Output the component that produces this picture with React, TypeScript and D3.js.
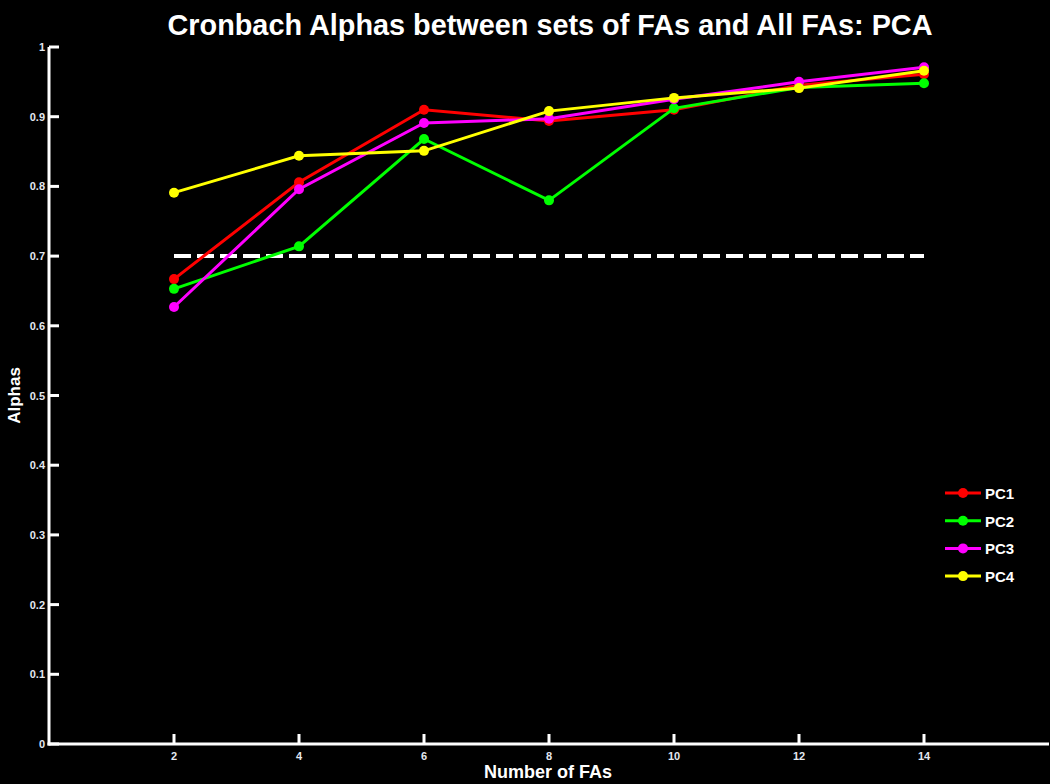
import React from 'react';
import * as d3 from 'd3';

const xValues = [2, 4, 6, 8, 10, 12, 14];
const seriesNames = ['PC1', 'PC2', 'PC3', 'PC4'];
const seriesColors = ['#ff0000', '#00ff00', '#ff00ff', '#ffff00'];
const pc1 = [0.667, 0.806, 0.910, 0.894, 0.910, 0.945, 0.961];
const pc2 = [0.653, 0.714, 0.868, 0.780, 0.912, 0.942, 0.948];
const pc3 = [0.627, 0.796, 0.891, 0.897, 0.925, 0.950, 0.971];
const pc4 = [0.791, 0.844, 0.851, 0.908, 0.927, 0.941, 0.966];
const seriesValues = [pc1, pc2, pc3, pc4];
const yTicks = [0, 0.1, 0.2, 0.3, 0.4, 0.5, 0.6, 0.7, 0.8, 0.9, 1];
const threshold = 0.7;

const width = 1050;
const height = 784;
const font = '"Liberation Sans", Arial, sans-serif';

const App = () => {
  const x = d3.scaleLinear().domain([0, 16]).range([49, 1049]);
  const y = d3.scaleLinear().domain([0, 1]).range([744, 47]);
  const line = d3.line<number>()
    .x((d, i) => x(xValues[i]))
    .y(d => y(d));

  return (
    <svg width={width} height={height} style={{ position: 'absolute', left: 0, top: 0, background: '#000' }}>
      <rect x={0} y={0} width={width} height={height} fill="#000" />
      <text x={550} y={35} textAnchor="middle" fill="#fff" fontFamily={font} fontWeight="bold" fontSize={30}
        textLength={765} lengthAdjust="spacingAndGlyphs">
        Cronbach Alphas between sets of FAs and All FAs: PCA
      </text>

      {/* axes */}
      <line x1={x(0)} x2={x(0)} y1={y(1)} y2={y(0) + 1.5} stroke="#fff" strokeWidth={3} />
      <line x1={x(0) - 1.5} x2={x(16)} y1={y(0)} y2={y(0)} stroke="#fff" strokeWidth={3} />
      {yTicks.map(t => (
        <g key={t}>
          <line x1={x(0)} x2={x(0) + 10} y1={y(t)} y2={y(t)} stroke="#fff" strokeWidth={3} />
          <text x={x(0) - 4} y={y(t) + 4} textAnchor="end" fill="#e4e8f0" fontFamily={font} fontWeight="bold" fontSize={11}>
            {t === 0 || t === 1 ? String(t) : t.toFixed(1)}
          </text>
        </g>
      ))}
      {xValues.map(v => (
        <g key={v}>
          <line x1={x(v)} x2={x(v)} y1={y(0)} y2={y(0) - 10} stroke="#fff" strokeWidth={3} />
          <text x={x(v)} y={y(0) + 16} textAnchor="middle" fill="#e4e8f0" fontFamily={font} fontWeight="bold" fontSize={11}>
            {v}
          </text>
        </g>
      ))}
      <text x={548} y={778} textAnchor="middle" fill="#fff" fontFamily={font} fontWeight="bold" fontSize={18}
        textLength={128} lengthAdjust="spacingAndGlyphs">
        Number of FAs
      </text>
      <text transform={`translate(20, ${y(0.5)}) rotate(-90)`} textAnchor="middle" fill="#fff" fontFamily={font} fontWeight="bold" fontSize={17}>
        Alphas
      </text>

      {/* threshold */}
      <line x1={x(2)} x2={x(14)} y1={y(threshold)} y2={y(threshold)} stroke="#fff" strokeWidth={4} strokeDasharray="17,6" />

      {/* series */}
      {seriesValues.map((vals, s) => (
        <g key={seriesNames[s]}>
          <path d={line(vals) || ''} fill="none" stroke={seriesColors[s]} strokeWidth={3} />
          {vals.map((v, i) => (
            <circle key={i} cx={x(xValues[i])} cy={y(v)} r={5} fill={seriesColors[s]} />
          ))}
        </g>
      ))}

      {/* legend */}
      {seriesNames.map((name, s) => (
        <g key={name} transform={`translate(945, ${493 + s * 27.7})`}>
          <line x1={0} x2={36} y1={0} y2={0} stroke={seriesColors[s]} strokeWidth={3} />
          <circle cx={18} cy={0} r={5} fill={seriesColors[s]} />
          <text x={40} y={6} fill="#fff" fontFamily={font} fontWeight="bold" fontSize={15}>
            {name}
          </text>
        </g>
      ))}
    </svg>
  );
};

export default App;
